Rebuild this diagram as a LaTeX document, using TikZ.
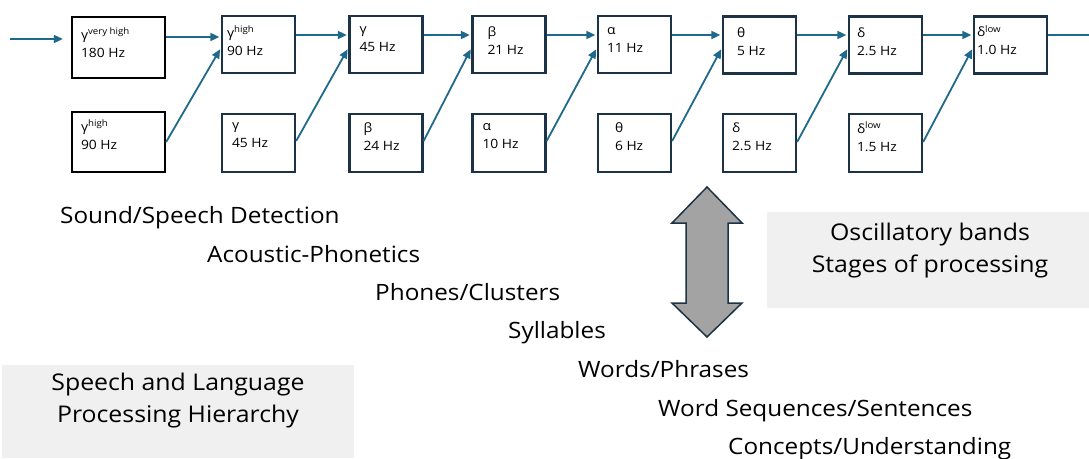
\documentclass[tikz,border=0pt]{standalone}
\usepackage{fontspec}
\setmainfont{Open Sans}[FakeStretch=1.08]
\usetikzlibrary{arrows.meta}
\definecolor{navy}{HTML}{1C3347}
\definecolor{arrblue}{HTML}{1F6A8C}
\definecolor{panel}{HTML}{F0F0F0}
\definecolor{dgray}{HTML}{A3A3A3}
\begin{document}
\begin{tikzpicture}[x=1pt,y=-1pt,
 box/.style={draw=navy, line width=2.3pt, minimum width=73pt, minimum height=57pt, inner sep=0pt},
 bigbox/.style={draw=black, line width=2.3pt, minimum width=93pt, minimum height=60pt, inner sep=0pt},
 btext/.style={anchor=north west, align=left, inner sep=0pt, font=\fontsize{12.8}{18}\selectfont},
 arr/.style={draw=arrblue, line width=1.8pt, -{Triangle[length=9pt,width=8pt]}, shorten >=1.5pt},
 lvl/.style={anchor=base west, inner sep=0pt, font=\fontsize{22.5}{26}\selectfont},
 paneltext/.style={align=center, inner sep=0pt, font=\fontsize{23}{32}\selectfont},
]
\useasboundingbox (0,0) rectangle (1089,458);
% panels
\fill[panel] (767,212) rectangle (1089,308);
\fill[panel] (2,365) rectangle (354,458);
\node[paneltext] (osc) at (930,251) {Oscillatory bands\\Stages of processing};
\node[paneltext] (slp) at (178,401) {Speech and Language\\Processing Hierarchy};

% boxes top row
\node[bigbox, minimum height=61pt] (t1) at (118.5,47.5) {};
\node[box] (t2) at (258.5,44.5) {};
\node[box] (t3) at (386,44.5) {};
\node[box] (t4) at (509,44.5) {};
\node[box] (t5) at (634.5,44.5) {};
\node[box] (t6) at (759.5,45) {};
\node[box] (t7) at (885.5,45) {};
\node[box] (t8) at (1010.5,45) {};
% boxes bottom row
\node[bigbox] (b1) at (118.5,142) {};
\node[box, minimum height=58pt] (b2) at (258.5,143) {};
\node[box, minimum height=58pt] (b3) at (386,143) {};
\node[box, minimum height=58pt] (b4) at (509,143) {};
\node[box, minimum height=58pt] (b5) at (634.5,143) {};
\node[box, minimum height=58pt] (b6) at (759.5,143) {};
\node[box, minimum height=58pt] (b7) at (885.5,143) {};

% box texts
\node[btext] (t1x) at ([shift={(10,12)}]t1.north west) {γ\textsuperscript{very high}\\180 Hz};
\node[btext] (t2x) at ([shift={(6,11)}]t2.north west) {γ\textsuperscript{high}\\90 Hz};
\node[btext] (t3x) at ([shift={(11,12)}]t3.north west) {γ\\45 Hz};
\node[btext] (t4x) at ([shift={(16,12)}]t4.north west) {β\\21 Hz};
\node[btext] (t5x) at ([shift={(10,12)}]t5.north west) {α\\11 Hz};
\node[btext] (t6x) at ([shift={(15,12)}]t6.north west) {θ\\5 Hz};
\node[btext] (t7x) at ([shift={(9,12)}]t7.north west) {δ\\2.5 Hz};
\node[btext] (t8x) at ([shift={(4,10)}]t8.north west) {δ\textsuperscript{low}\\1.0 Hz};
\node[btext] (b1x) at ([shift={(10,9)}]b1.north west) {γ\textsuperscript{high}\\90 Hz};
\node[btext] (b2x) at ([shift={(11,10)}]b2.north west) {γ\\45 Hz};
\node[btext] (b3x) at ([shift={(15,10)}]b3.north west) {β\\24 Hz};
\node[btext] (b4x) at ([shift={(11,10)}]b4.north west) {α\\10 Hz};
\node[btext] (b5x) at ([shift={(18,10)}]b5.north west) {θ\\6 Hz};
\node[btext] (b6x) at ([shift={(10,10)}]b6.north west) {δ\\2.5 Hz};
\node[btext] (b7x) at ([shift={(9,9)}]b7.north west) {δ\textsuperscript{low}\\1.5 Hz};

% arrows
\coordinate (in) at (10,39);
\coordinate (out) at (1089,35);
\draw[arr, shorten >=8pt] (in) -- (t1.west |- in);
\draw[arr] (t1.east |- 0,37) -- (t2.west |- 0,37);
\draw[arr] (b1.east |- 0,142) -- (t2.west |- 0,48);
\draw[arr] (t2.east |- 0,35) -- (t3.west |- 0,35);
\draw[arr] (b2.east |- 0,141) -- (t3.west |- 0,48);
\draw[arr] (t3.east |- 0,35) -- (t4.west |- 0,35);
\draw[arr] (b3.east |- 0,141) -- (t4.west |- 0,48);
\draw[arr] (t4.east |- 0,35) -- (t5.west |- 0,35);
\draw[arr] (b4.east |- 0,141) -- (t5.west |- 0,48);
\draw[arr] (t5.east |- 0,35) -- (t6.west |- 0,35);
\draw[arr] (b5.east |- 0,141) -- (t6.west |- 0,48);
\draw[arr] (t6.east |- 0,35) -- (t7.west |- 0,35);
\draw[arr] (b6.east |- 0,142) -- (t7.west |- 0,48);
\draw[arr] (t7.east |- 0,35) -- (t8.west |- 0,35);
\draw[arr] (b7.east |- 0,142) -- (t8.west |- 0,48);
\draw[draw=arrblue, line width=1.8pt] (t8.east |- out) -- (out);

% double arrow
\draw[fill=dgray, draw=navy, line width=1.5pt, line join=miter]
  (707,187) -- (742,223) -- (728,223) -- (728,303) -- (742,303) -- (707,337)
  -- (672,303) -- (686,303) -- (686,223) -- (672,223) -- cycle;

% hierarchy labels
\node[lvl] (l1) at (60,223) {Sound/Speech Detection};
\node[lvl] (l2) at (207,262) {Acoustic-Phonetics};
\node[lvl] (l3) at (375,300) {Phones/Clusters};
\node[lvl] (l4) at (508,338) {Syllables};
\node[lvl] (l5) at (578,377) {Words/Phrases};
\node[lvl] (l6) at (658,416) {Word Sequences/Sentences};
\node[lvl] (l7) at (728,454) {Concepts/Understanding};
\end{tikzpicture}
\end{document}
